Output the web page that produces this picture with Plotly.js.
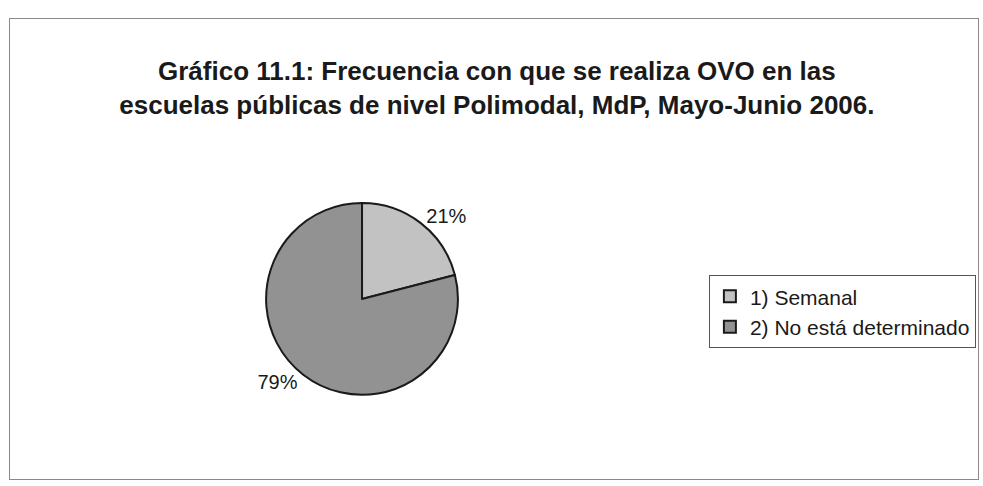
<!DOCTYPE html>
<html>
<head>
<meta charset="utf-8">
<script src="https://cdn.plot.ly/plotly-3.0.1.min.js"></script>
<style>
  html, body { margin: 0; padding: 0; background: #ffffff; }
  #frame { position: absolute; left: 9px; top: 18px; width: 968px; height: 460px; border: 1px solid #8a8a8a; }
  #chart { width: 968px; height: 460px; }
</style>
</head>
<body>
<div id="frame"><div id="chart"></div></div>
<script>
const categories = ["1) Semanal", "2) No está determinado"];
const values = [21, 79];
const sliceColors = ["#c2c2c2", "#929292"];
const titleText = "Gráfico 11.1: Frecuencia con que se realiza OVO en las<br>escuelas públicas de nivel Polimodal, MdP, Mayo-Junio 2006.";

const trace = {
  type: "pie",
  labels: categories,
  values: values,
  sort: false,
  direction: "clockwise",
  rotation: 0,
  marker: { colors: sliceColors, line: { color: "#1a1a1a", width: 2 } },
  textinfo: "percent",
  texttemplate: "%{percent:.0%}",
  textposition: "outside",
  outsidetextfont: { family: "Liberation Sans, Arial, sans-serif", size: 20, color: "#1a1a1a" },
  domain: { x: [0.2645, 0.4628], y: [0.183, 0.600] },
  hoverinfo: "label+percent"
};

const layout = {
  width: 968,
  height: 460,
  margin: { l: 0, r: 0, t: 0, b: 0 },
  paper_bgcolor: "#ffffff",
  plot_bgcolor: "#ffffff",
  title: {
    text: "<b>" + titleText + "</b>",
    x: 0.503,
    xanchor: "center",
    y: 0.868,
    yanchor: "middle",
    font: { family: "Liberation Sans, Arial, sans-serif", size: 26, color: "#1a1a1a" }
  },
  showlegend: true,
  legend: {
    x: 0.722,
    xanchor: "left",
    y: 0.443,
    yanchor: "top",
    bgcolor: "#ffffff",
    bordercolor: "#555555",
    borderwidth: 1,
    font: { family: "Liberation Sans, Arial, sans-serif", size: 21, color: "#1a1a1a" },
    itemwidth: 30,
    traceorder: "normal"
  }
};

Plotly.newPlot("chart", [trace], layout, { displayModeBar: false, staticPlot: true });
</script>
</body>
</html>
